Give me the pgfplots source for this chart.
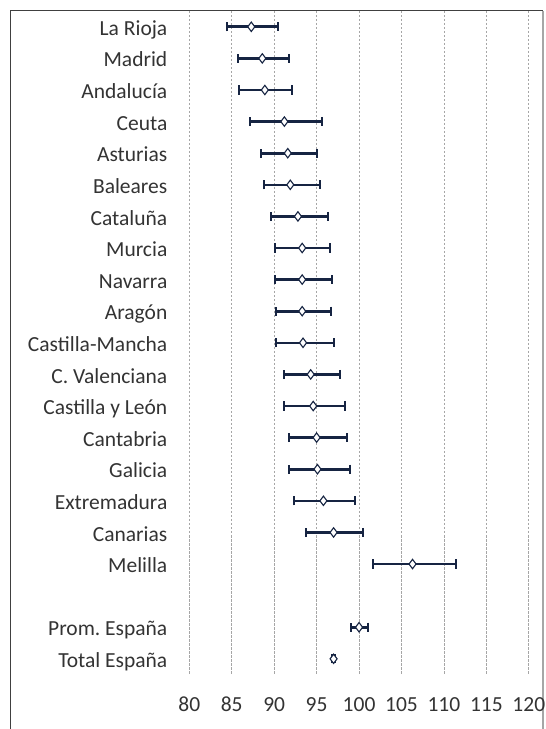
\documentclass[border=0pt]{standalone}
\usepackage{pgfplots}
\pgfplotsset{compat=1.18}
\usepackage{pgfplotstable}
\usepackage{fontspec}
\setmainfont{Carlito}
\frenchspacing
\definecolor{navy}{RGB}{22,36,66}
\pgfplotstableread{
y x em ep
0 87.3 2.9 3.2
1 88.6 2.9 3.1
2 88.9 3.1 3.2
3 91.2 4.0 4.4
4 91.6 3.2 3.5
5 91.9 3.1 3.5
6 92.8 3.2 3.5
7 93.3 3.2 3.3
8 93.3 3.2 3.5
9 93.3 3.1 3.4
10 93.4 3.2 3.6
11 94.3 3.2 3.4
12 94.6 3.4 3.8
13 95.0 3.2 3.6
14 95.1 3.3 3.8
15 95.8 3.5 3.7
16 97.0 3.3 3.5
17 106.3 4.7 5.1
19 100.0 1.0 1.0
20 97.0 0.2 0.2
}\datatable
\begin{document}
\begin{tikzpicture}[x=1bp,y=1bp]
\useasboundingbox (0,0) rectangle (546,729);
\draw[black!75, line width=1bp] (10.8,-5) -- (10.8,718) -- (543,718);
\draw[gray!70, line width=1.3bp] (543,718) -- (543,-5);
\begin{axis}[
  at={(189.3bp,55bp)}, anchor=south west,
  scale only axis, width=339.5bp, height=663bp,
  xmin=80, xmax=120, ymin=-0.5, ymax=20.48, y dir=reverse,
  xtick={80,85,...,120},
  ytick={0,1,2,3,4,5,6,7,8,9,10,11,12,13,14,15,16,17,19,20},
  yticklabels={La Rioja,Madrid,Andalucía,Ceuta,Asturias,Baleares,Cataluña,Murcia,Navarra,Aragón,Castilla-Mancha,C. Valenciana,Castilla y León,Cantabria,Galicia,Extremadura,Canarias,Melilla,Prom. España,Total España},
  axis line style={draw=none},
  major tick length=0pt,
  xmajorgrids,
  major grid style={gray!70, line width=0.7bp, dash pattern=on 2.5bp off 1.5bp},
  tick label style={font=\fontsize{21.5bp}{24bp}\selectfont, text=black!80},
  /pgf/number format/assume math mode=true,
  xticklabel style={anchor=base, inner sep=0pt, yshift=-37bp},
  yticklabel style={anchor=base east, inner sep=0pt, xshift=-21.8bp, yshift=-8.6bp},
  clip=false,
]
\addplot[draw=none, mark=none,
  error bars/.cd, x dir=both, x explicit,
  error bar style={draw=navy, line width=2.6bp},
  error mark options={draw=navy, line width=2bp, mark size=4.6bp, rotate=90}]
  table[x=x, y=y, x error plus=ep, x error minus=em] {\datatable};
\addplot[only marks, mark=diamond*, mark size=4.7bp,
  mark options={fill=white, draw=navy, line width=1.1bp}]
  table[x=x, y=y] {\datatable};
\end{axis}
\end{tikzpicture}
\end{document}
